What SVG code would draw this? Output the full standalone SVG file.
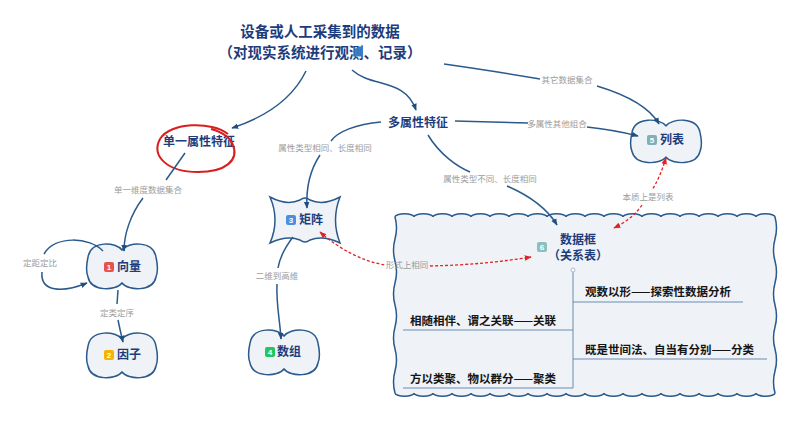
<svg xmlns="http://www.w3.org/2000/svg" xmlns:xlink="http://www.w3.org/1999/xlink" width="792" height="423" viewBox="0 0 792 423">
<defs>
<style>
.t{font-family:"Noto Sans CJK SC","Noto Sans",sans-serif;font-weight:700;fill:#1c3c7c}
.title{font-size:14.5px;text-anchor:middle}
.nt{font-size:12px}
.lb{font-family:"Noto Sans CJK SC","Noto Sans",sans-serif;font-size:8.5px;fill:#9c9c9c;text-anchor:middle}
.bt{font-family:"Noto Sans CJK SC","Noto Sans",sans-serif;font-size:11.5px;font-weight:700;fill:#151515}
.badge{font-family:"Liberation Sans",sans-serif;font-size:8px;font-weight:700;fill:#fff;text-anchor:middle}
.shape{fill:#eff2f6;stroke:#2a5a8c;stroke-width:1.5}
.c{fill:none;stroke:#2a5a8c;stroke-width:1.5}
.r{fill:none;stroke:#e02424;stroke-width:1.3;stroke-dasharray:3 2}
.br{fill:none;stroke:#6a8cb3;stroke-width:1}
</style>
<marker id="ab" viewBox="0 0 10 10" refX="9" refY="5" markerUnits="userSpaceOnUse" markerWidth="7" markerHeight="7" orient="auto-start-reverse"><path d="M0,1 L10,5 L0,9 z" fill="#1f4e80"/></marker>
<marker id="ar" viewBox="0 0 10 10" refX="9" refY="5" markerUnits="userSpaceOnUse" markerWidth="7" markerHeight="7" orient="auto-start-reverse"><path d="M0,1 L10,5 L0,9 z" fill="#e02424"/></marker>
<path id="cloud" d="M0,-16 C-6,-24 -31,-26 -34,-9 C-36,0 -36,6 -34,11 C-31,26 -6,25 0,17 C6,25 31,26 34,11 C36,6 36,0 34,-9 C31,-26 6,-24 0,-16 Z"/>
</defs>

<g id="title">
<text class="t title" x="320" y="37">设备或人工采集到的数据</text>
<text class="t title" x="320" y="58">（对现实系统进行观测、记录）</text>
</g>

<g id="single">
<text class="t nt" x="199" y="146" text-anchor="middle">单一属性特征</text>
<path d="M228,134 C212,121 170,122 160,139 C151,156 167,172 198,172 C226,172 239,160 233,145 C230,137 222,132 211,129" fill="none" stroke="#d81e1e" stroke-width="2"/>
</g>

<g id="multi">
<text class="t nt" x="418" y="127" text-anchor="middle">多属性特征</text>
</g>

<g id="vector">
<use xlink:href="#cloud" class="shape" transform="translate(122,266)"/>
<rect x="104" y="262" width="10" height="10" rx="2" fill="#e5534b"/>
<text class="badge" x="109" y="270">1</text>
<text class="t nt" x="117" y="271">向量</text>
</g>

<g id="factor">
<use xlink:href="#cloud" class="shape" transform="translate(122,355)"/>
<rect x="104" y="350" width="10" height="10" rx="2" fill="#f5b400"/>
<text class="badge" x="109" y="358">2</text>
<text class="t nt" x="117" y="359">因子</text>
</g>

<g id="matrix">
<path class="shape" d="M270,197 Q287,206 300,200 Q305,196 310,200 Q323,206 340,197 Q331,220 340,243 Q323,235 310,240 Q305,244 300,240 Q287,235 270,243 Q280,220 270,197 Z"/>
<rect x="286" y="215" width="10" height="10" rx="2" fill="#4a8fe0"/>
<text class="badge" x="291" y="223">3</text>
<text class="t nt" x="299" y="224">矩阵</text>
</g>

<g id="array">
<use xlink:href="#cloud" class="shape" transform="translate(284,352)"/>
<rect x="265" y="347" width="10" height="10" rx="2" fill="#22c55e"/>
<text class="badge" x="270" y="355">4</text>
<text class="t nt" x="277" y="356">数组</text>
</g>

<g id="list">
<use xlink:href="#cloud" class="shape" transform="translate(666,141) scale(1,0.95)"/>
<rect x="647" y="135" width="10" height="10" rx="2" fill="#7fb0b5"/>
<text class="badge" x="652" y="143">5</text>
<text class="t nt" x="660" y="144">列表</text>
</g>

<g id="dataframe">
<path class="shape" d="M395,217 a9.5,3.2 0 0 1 19,0 a9.5,3.2 0 0 1 19,0 a9.5,3.2 0 0 1 19,0 a9.5,3.2 0 0 1 19,0 a9.5,3.2 0 0 1 19,0 a9.5,3.2 0 0 1 19,0 a9.5,3.2 0 0 1 19,0 a9.5,3.2 0 0 1 19,0 a9.5,3.2 0 0 1 19,0 a9.5,3.2 0 0 1 19,0 a9.5,3.2 0 0 1 19,0 a9.5,3.2 0 0 1 19,0 a9.5,3.2 0 0 1 19,0 a9.5,3.2 0 0 1 19,0 a9.5,3.2 0 0 1 19,0 a9.5,3.2 0 0 1 19,0 a9.5,3.2 0 0 1 19,0 a9.5,3.2 0 0 1 19,0 a9.5,3.2 0 0 1 19,0 a9.5,3.2 0 0 1 19,0 q3,11 0,22 t0,22 t0,22 t0,22 t0,22 t0,22 t0,22 t0,22 a9.5,3.2 0 0 1 -19,0 a9.5,3.2 0 0 1 -19,0 a9.5,3.2 0 0 1 -19,0 a9.5,3.2 0 0 1 -19,0 a9.5,3.2 0 0 1 -19,0 a9.5,3.2 0 0 1 -19,0 a9.5,3.2 0 0 1 -19,0 a9.5,3.2 0 0 1 -19,0 a9.5,3.2 0 0 1 -19,0 a9.5,3.2 0 0 1 -19,0 a9.5,3.2 0 0 1 -19,0 a9.5,3.2 0 0 1 -19,0 a9.5,3.2 0 0 1 -19,0 a9.5,3.2 0 0 1 -19,0 a9.5,3.2 0 0 1 -19,0 a9.5,3.2 0 0 1 -19,0 a9.5,3.2 0 0 1 -19,0 a9.5,3.2 0 0 1 -19,0 a9.5,3.2 0 0 1 -19,0 a9.5,3.2 0 0 1 -19,0 q-3,-11 0,-22 t0,-22 t0,-22 t0,-22 t0,-22 t0,-22 t0,-22 t0,-22 Z"/>
<rect x="537" y="242" width="10" height="10" rx="2" fill="#8cc0c0"/>
<text class="badge" x="542" y="250">6</text>
<text class="t nt" x="578" y="244" text-anchor="middle">数据框</text>
<text class="t nt" x="578" y="260" text-anchor="middle">（关系表）</text>
<path class="br" d="M573,272 L573,388"/>
<circle cx="573" cy="270" r="2" fill="#fff" stroke="#9ab" stroke-width="0.8"/>
<path class="br" d="M573,302 L743,302 M573,359 L767,359 M403,330 L573,330 M403,388 L573,388"/>
<text class="bt" x="585" y="296">观数以形——探索性数据分析</text>
<text class="bt" x="585" y="354">既是世间法、自当有分别——分类</text>
<text class="bt" x="410" y="325">相随相伴、谓之关联——关联</text>
<text class="bt" x="410" y="383">方以类聚、物以群分——聚类</text>
</g>

<g id="connectors">
<path class="c" d="M306,71 Q287,110 232,128" marker-end="url(#ab)"/>
<path class="c" d="M352,70 C372,88 405,78 416,110" marker-end="url(#ab)"/>
<path class="c" d="M444,64 Q500,72 540,79"/>
<text class="lb" x="567" y="83">其它数据集合</text>
<path class="c" d="M597,86 C630,96 650,108 659,124" marker-end="url(#ab)"/>
<path class="c" d="M455,121 L528,123"/>
<text class="lb" x="557" y="127">多属性其他组合</text>
<path class="c" d="M587,127 Q615,130 638,136" marker-end="url(#ab)"/>
<path class="c" d="M185,153 L166,180"/>
<text class="lb" x="148" y="193">单一维度数据集合</text>
<path class="c" d="M143,198 C130,215 124,235 124,251" marker-end="url(#ab)"/>
<path class="c" d="M103,251 C90,237 55,235 44,254"/>
<text class="lb" x="40" y="266">定距定比</text>
<path class="c" d="M42,272 C40,292 62,293 87,283" marker-end="url(#ab)"/>
<path class="c" d="M118,290 L117,304"/>
<text class="lb" x="117" y="316">定类定序</text>
<path class="c" d="M118,320 Q120,330 123,342" marker-end="url(#ab)"/>
<path class="c" d="M381,122 C356,124 337,132 331,141"/>
<text class="lb" x="325" y="151">属性类型相同、长度相同</text>
<path class="c" d="M320,155 C310,170 306,190 307,208" marker-end="url(#ab)"/>
<path class="c" d="M293,237 C283,250 279,262 278,268"/>
<text class="lb" x="277" y="279">二维到高维</text>
<path class="c" d="M277,284 C276,305 280,320 281,339" marker-end="url(#ab)"/>
<path class="c" d="M428,135 C440,155 458,167 470,172"/>
<text class="lb" x="490" y="182">属性类型不同、长度相同</text>
<path class="c" d="M507,186 C530,196 548,210 557,225" marker-end="url(#ab)"/>
<path class="r" d="M666,158 C661,174 656,184 652,190" marker-start="url(#ar)"/>
<text class="lb" x="648" y="200">本质上是列表</text>
<path class="r" d="M642,205 C635,215 626,222 614,228" marker-end="url(#ar)"/>
<path class="r" d="M320,232 C340,250 365,262 385,265" marker-start="url(#ar)"/>
<text class="lb" x="407" y="268">形式上相同</text>
<path class="r" d="M430,266 C470,265 500,262 531,257" marker-end="url(#ar)"/>
</g>
</svg>
